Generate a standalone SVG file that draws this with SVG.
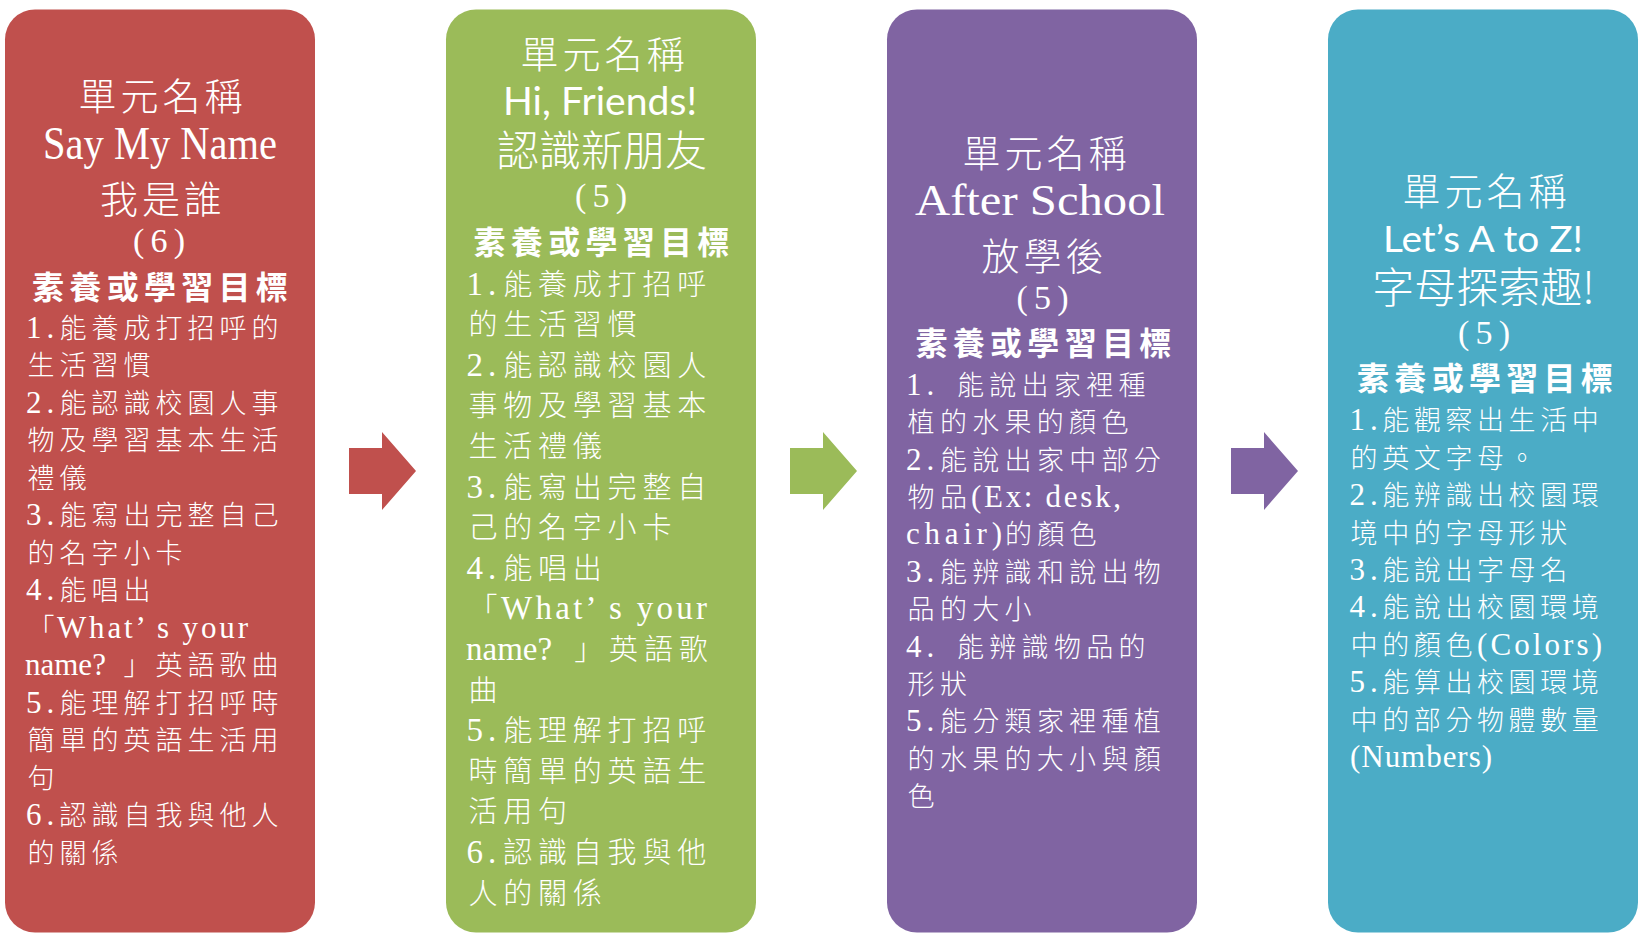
<svg xmlns="http://www.w3.org/2000/svg" width="1642" height="938" viewBox="0 0 1642 938">
<style>
.box{stroke:none}
.hd{font-family:"Noto Sans CJK TC","Noto Sans CJK JP",sans-serif;font-weight:300;font-size:38px;letter-spacing:4px;fill:#fff;text-anchor:middle}
.big{font-family:"Noto Sans CJK TC","Noto Sans CJK JP",sans-serif;font-weight:300;font-size:42px;fill:#fff;text-anchor:middle}
.en{font-family:"Liberation Serif",serif;fill:#fff;text-anchor:middle}
.sn{font-family:Lato,"Open Sans",sans-serif;fill:#fff;text-anchor:middle}
.gl{font-family:"Noto Sans CJK TC","Noto Sans CJK JP",sans-serif;font-weight:700;font-size:32px;letter-spacing:5.3px;fill:#fff;text-anchor:middle}
.t{font-family:"Noto Sans CJK TC","Noto Sans CJK JP",sans-serif;font-weight:300;font-size:27px;letter-spacing:5px;fill:#fff}
.t2{font-size:29px;letter-spacing:5.8px}
.t3{letter-spacing:5.3px}
.t4{letter-spacing:4.6px}
.l{font-family:"Liberation Serif",serif;font-size:31px;letter-spacing:0px;font-weight:400}
.l2{font-size:33px}
.n{letter-spacing:5px}
</style>

<g id="connectors">
<polygon fill="#C0504D" points="349,448 382,448 382,432 416,471 382,510 382,494 349,494"/>
<polygon fill="#9BBB59" points="790,448 823,448 823,432 857,471 823,510 823,494 790,494"/>
<polygon fill="#8064A2" points="1231,448 1264,448 1264,432 1298,471 1264,510 1264,494 1231,494"/>
</g>

<g id="node1">
<rect class="box" x="5" y="9.5" width="310" height="923" rx="30" fill="#C0504D"/>
<text class="hd" x="162.5" y="110.4">單元名稱</text>
<text class="en" x="160" y="159" font-size="46" textLength="234" lengthAdjust="spacingAndGlyphs">Say My Name</text>
<text class="hd" x="163" y="213.4">我是誰</text>
<text class="en" x="159" y="252" font-size="34" textLength="52" lengthAdjust="spacing">(6)</text>
<text class="gl" x="162.6" y="299.2">素養或學習目標</text>
<text class="t" y="337.8"><tspan class="l n" x="26">1.</tspan><tspan x="59.5">能養成打招呼的</tspan></text>
<text class="t" x="27.5" y="375.3">生活習慣</text>
<text class="t" y="412.8"><tspan class="l n" x="26">2.</tspan><tspan x="59.5">能認識校園人事</tspan></text>
<text class="t" x="27.5" y="450.3">物及學習基本生活</text>
<text class="t" x="27.5" y="487.8">禮儀</text>
<text class="t" y="525.3"><tspan class="l n" x="26">3.</tspan><tspan x="59.5">能寫出完整自己</tspan></text>
<text class="t" x="27.5" y="562.8">的名字小卡</text>
<text class="t" y="600.3"><tspan class="l n" x="26">4.</tspan><tspan x="59.5">能唱出</tspan></text>
<text class="t" y="637.8"><tspan x="27.5">「</tspan><tspan class="l" x="57" textLength="191" lengthAdjust="spacing">What’ s your</tspan></text>
<text class="t" y="675.3"><tspan class="l" x="25">name? </tspan><tspan x="123.5">」英語歌曲</tspan></text>
<text class="t" y="712.8"><tspan class="l n" x="26">5.</tspan><tspan x="59.5">能理解打招呼時</tspan></text>
<text class="t" x="27.5" y="750.3">簡單的英語生活用</text>
<text class="t" x="27.5" y="787.8">句</text>
<text class="t" y="825.3"><tspan class="l n" x="26">6.</tspan><tspan x="59.5">認識自我與他人</tspan></text>
<text class="t" x="27.5" y="862.8">的關係</text>
</g>

<g id="node2">
<rect class="box" x="446" y="9.5" width="310" height="923" rx="30" fill="#9BBB59"/>
<text class="hd" x="604.5" y="68.4">單元名稱</text>
<text class="sn" x="600" y="115" font-size="38" textLength="194" lengthAdjust="spacingAndGlyphs">Hi, Friends!</text>
<text class="big" x="602" y="166">認識新朋友</text>
<text class="en" x="601" y="207" font-size="34" textLength="52" lengthAdjust="spacing">(5)</text>
<text class="gl" x="604.1" y="254.2">素養或學習目標</text>
<text class="t t2" y="294.5"><tspan class="l l2 n" x="466.5">1.</tspan><tspan x="503.2">能養成打招呼</tspan></text>
<text class="t t2" x="468.4" y="335.1">的生活習慣</text>
<text class="t t2" y="375.7"><tspan class="l l2 n" x="466.5">2.</tspan><tspan x="503.2">能認識校園人</tspan></text>
<text class="t t2" x="468.4" y="416.3">事物及學習基本</text>
<text class="t t2" x="468.4" y="456.9">生活禮儀</text>
<text class="t t2" y="497.5"><tspan class="l l2 n" x="466.5">3.</tspan><tspan x="503.2">能寫出完整自</tspan></text>
<text class="t t2" x="468.4" y="538.1">己的名字小卡</text>
<text class="t t2" y="578.7"><tspan class="l l2 n" x="466.5">4.</tspan><tspan x="503.2">能唱出</tspan></text>
<text class="t t2" y="619.3"><tspan x="468.4">「</tspan><tspan class="l l2" x="501" textLength="206" lengthAdjust="spacing">What’ s your</tspan></text>
<text class="t t2" y="659.9"><tspan class="l l2" x="466">name? </tspan><tspan x="574.3">」英語歌</tspan></text>
<text class="t t2" x="468.4" y="700.5">曲</text>
<text class="t t2" y="741.1"><tspan class="l l2 n" x="466.5">5.</tspan><tspan x="503.2">能理解打招呼</tspan></text>
<text class="t t2" x="468.4" y="781.7">時簡單的英語生</text>
<text class="t t2" x="468.4" y="822.3">活用句</text>
<text class="t t2" y="862.9"><tspan class="l l2 n" x="466.5">6.</tspan><tspan x="503.2">認識自我與他</tspan></text>
<text class="t t2" x="468.4" y="903.5">人的關係</text>
</g>

<g id="node3">
<rect class="box" x="887" y="9.5" width="310" height="923" rx="30" fill="#8064A2"/>
<text class="hd" x="1046.5" y="167">單元名稱</text>
<text class="en" x="1040" y="215" font-size="45" textLength="250" lengthAdjust="spacingAndGlyphs">After School</text>
<text class="hd" x="1044.5" y="270.4">放學後</text>
<text class="en" x="1042.5" y="309" font-size="34" textLength="52" lengthAdjust="spacing">(5)</text>
<text class="gl" x="1046" y="355.2">素養或學習目標</text>
<text class="t t3" y="394.8"><tspan class="l n" x="906">1. </tspan><tspan x="957">能說出家裡種</tspan></text>
<text class="t t3" x="907.6" y="432.2">植的水果的顏色</text>
<text class="t t3" y="469.6"><tspan class="l n" x="906">2.</tspan><tspan x="940">能說出家中部分</tspan></text>
<text class="t t3" y="507"><tspan x="907.6">物品</tspan><tspan class="l" x="971" textLength="150" lengthAdjust="spacing">(Ex: desk,</tspan></text>
<text class="t t3" y="544.4"><tspan class="l" x="906" textLength="96" lengthAdjust="spacing">chair)</tspan><tspan x="1005">的顏色</tspan></text>
<text class="t t3" y="581.8"><tspan class="l n" x="906">3.</tspan><tspan x="940">能辨識和說出物</tspan></text>
<text class="t t3" x="907.6" y="619.2">品的大小</text>
<text class="t t3" y="656.6"><tspan class="l n" x="906">4. </tspan><tspan x="957">能辨識物品的</tspan></text>
<text class="t t3" x="907.6" y="694">形狀</text>
<text class="t t3" y="731.4"><tspan class="l n" x="906">5.</tspan><tspan x="940">能分類家裡種植</tspan></text>
<text class="t t3" x="907.6" y="768.8">的水果的大小與顏</text>
<text class="t t3" x="907.6" y="806.2">色</text>
</g>

<g id="node4">
<rect class="box" x="1328" y="9.5" width="310" height="923" rx="30" fill="#4BACC6"/>
<text class="hd" x="1486.5" y="205">單元名稱</text>
<text class="sn" x="1483" y="252" font-size="36" textLength="200" lengthAdjust="spacingAndGlyphs">Let’s A to Z!</text>
<text class="big" x="1483.5" y="302.5">字母探索趣!</text>
<text class="en" x="1484" y="344" font-size="34" textLength="52" lengthAdjust="spacing">(5)</text>
<text class="gl" x="1487.6" y="390.2">素養或學習目標</text>
<text class="t t4" y="430.3"><tspan class="l n" x="1349.5">1.</tspan><tspan x="1382.2">能觀察出生活中</tspan></text>
<text class="t t4" x="1350.6" y="467.7">的英文字母。</text>
<text class="t t4" y="505.1"><tspan class="l n" x="1349.5">2.</tspan><tspan x="1382.2">能辨識出校園環</tspan></text>
<text class="t t4" x="1350.6" y="542.5">境中的字母形狀</text>
<text class="t t4" y="579.9"><tspan class="l n" x="1349.5">3.</tspan><tspan x="1382.2">能說出字母名</tspan></text>
<text class="t t4" y="617.3"><tspan class="l n" x="1349.5">4.</tspan><tspan x="1382.2">能說出校園環境</tspan></text>
<text class="t t4" y="654.7"><tspan x="1350.6">中的顏色</tspan><tspan class="l" x="1477" textLength="125" lengthAdjust="spacing">(Colors)</tspan></text>
<text class="t t4" y="692.1"><tspan class="l n" x="1349.5">5.</tspan><tspan x="1382.2">能算出校園環境</tspan></text>
<text class="t t4" x="1350.6" y="729.5">中的部分物體數量</text>
<text class="t t4" y="766.9"><tspan class="l" x="1350" textLength="142" lengthAdjust="spacing">(Numbers)</tspan></text>
</g>
</svg>
